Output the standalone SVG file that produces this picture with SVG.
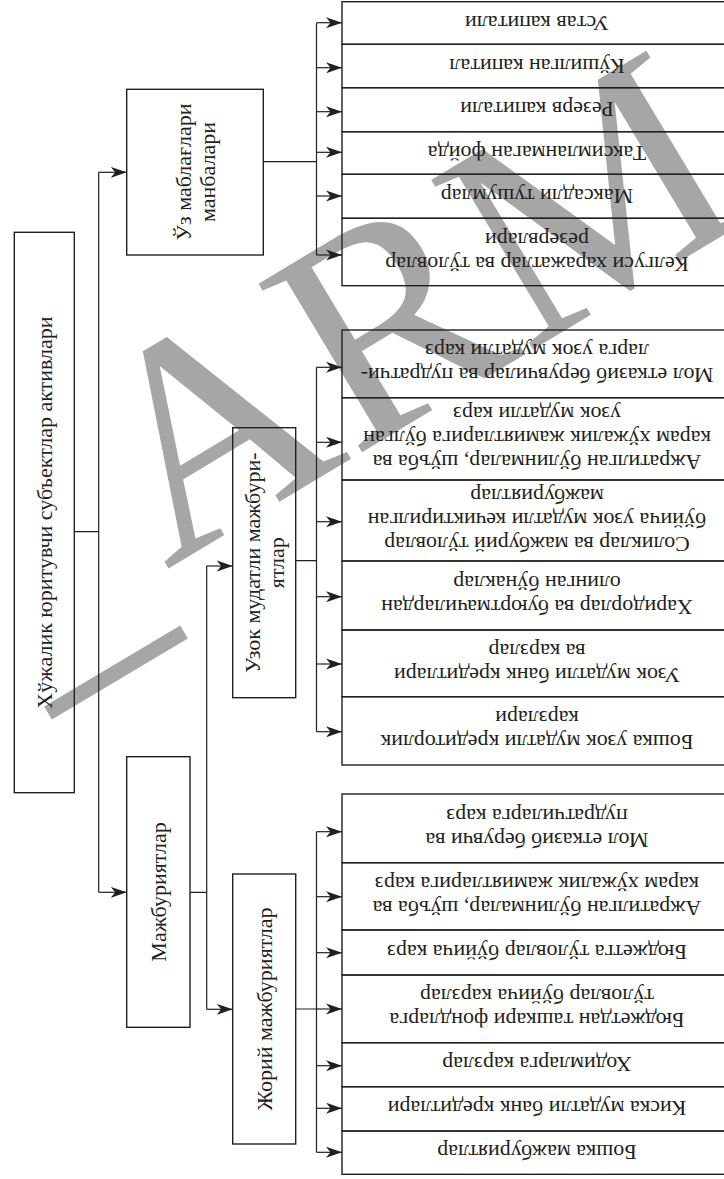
<svg xmlns="http://www.w3.org/2000/svg" width="724" height="1179" viewBox="0 0 724 1179">
<style>
.wm{font-family:"Liberation Serif","DejaVu Serif",serif;fill:#a6a6a6}
.box{fill:none;stroke:#231f20;stroke-width:1.4}
.con{fill:none;stroke:#231f20;stroke-width:1.2}
.t{font-family:"Liberation Serif","DejaVu Serif",serif;font-size:22px;fill:#231f20;text-anchor:middle}
</style>
<defs>
<marker id="ah" viewBox="-16 -6 16 12" refX="0" refY="0" markerWidth="16" markerHeight="12" markerUnits="userSpaceOnUse" orient="auto">
<path d="M0,0 L-16,-5.5 L-11.5,0 L-16,5.5 Z" fill="#231f20"/>
</marker>
</defs>
<rect width="724" height="1179" fill="#ffffff"/>
<g id="watermark">
<text class="wm" font-size="302" transform="translate(166,570) rotate(-31)">ARM</text>
<line x1="48" y1="713" x2="184" y2="632" stroke="#a6a6a6" stroke-width="15"/>
</g>
<g id="connectors">
<path class="con" d="M74.3,531.7 H98.7 M98.7,172.3 V892.3"/>
<path class="con" d="M98.7,172.3 H126.7" marker-end="url(#ah)"/>
<path class="con" d="M98.7,892.3 H126.7" marker-end="url(#ah)"/>
<path class="con" d="M263.3,161.7 H316.5 M316.5,22.7 V255"/>
<path class="con" d="M316.5,22.7 H342" marker-end="url(#ah)"/>
<path class="con" d="M316.5,67.7 H342" marker-end="url(#ah)"/>
<path class="con" d="M316.5,111.7 H342" marker-end="url(#ah)"/>
<path class="con" d="M316.5,152.3 H342" marker-end="url(#ah)"/>
<path class="con" d="M316.5,196 H342" marker-end="url(#ah)"/>
<path class="con" d="M316.5,255 H342" marker-end="url(#ah)"/>
<path class="con" d="M190,892.3 H206.7 M206.7,566 V1009.3"/>
<path class="con" d="M206.7,566 H232.7" marker-end="url(#ah)"/>
<path class="con" d="M206.7,1009.3 H232.7" marker-end="url(#ah)"/>
<path class="con" d="M295.7,560.7 H316.5 M316.5,367.3 V731.7"/>
<path class="con" d="M316.5,367.3 H342" marker-end="url(#ah)"/>
<path class="con" d="M316.5,442.3 H342" marker-end="url(#ah)"/>
<path class="con" d="M316.5,521.7 H342" marker-end="url(#ah)"/>
<path class="con" d="M316.5,596.7 H342" marker-end="url(#ah)"/>
<path class="con" d="M316.5,664 H342" marker-end="url(#ah)"/>
<path class="con" d="M316.5,731.7 H342" marker-end="url(#ah)"/>
<path class="con" d="M295.7,1009 H316.5 M316.5,831.7 V1152.3"/>
<path class="con" d="M316.5,831.7 H342" marker-end="url(#ah)"/>
<path class="con" d="M316.5,896.7 H342" marker-end="url(#ah)"/>
<path class="con" d="M316.5,952.7 H342" marker-end="url(#ah)"/>
<path class="con" d="M316.5,1009 H342" marker-end="url(#ah)"/>
<path class="con" d="M316.5,1065.7 H342" marker-end="url(#ah)"/>
<path class="con" d="M316.5,1108.3 H342" marker-end="url(#ah)"/>
<path class="con" d="M316.5,1152.3 H342" marker-end="url(#ah)"/>
</g>
<g id="n-main">
<rect class="box" x="14.3" y="232.3" width="60" height="560.4"/>
<text class="t" transform="translate(44.3,512.5) rotate(-90)" y="7.5">Хўжалик юритувчи субъектлар активлари</text>
</g>
<g id="n-uz">
<rect class="box" x="126.7" y="89.3" width="136.6" height="165.7"/>
<text class="t" transform="translate(195,172) rotate(-90)"><tspan x="0" y="-4.5">Ўз маблағлари</tspan><tspan x="0" y="19.5">манбалари</tspan></text>
</g>
<g id="n-mazh">
<rect class="box" x="126.7" y="756.7" width="63.3" height="270.6"/>
<text class="t" transform="translate(158.3,892) rotate(-90)" y="7.5">Мажбуриятлар</text>
</g>
<g id="n-uzok">
<rect class="box" x="232.7" y="427.7" width="63" height="270"/>
<text class="t" transform="translate(264.2,562.7) rotate(-90)"><tspan x="0" y="-4.5">Узок мудатли мажбури-</tspan><tspan x="0" y="19.5">ятлар</tspan></text>
</g>
<g id="n-joriy">
<rect class="box" x="232.7" y="874" width="63" height="270"/>
<text class="t" transform="translate(264.2,1009) rotate(-90)" y="7.5">Жорий мажбуриятлар</text>
</g>
<g id="n-r1">
<rect class="box" x="342" y="1.7" width="390" height="42.6"/>
<text class="t" transform="translate(537,23) rotate(180)" y="7.5">Устав капитали</text>
</g>
<g id="n-r2">
<rect class="box" x="342" y="44.3" width="390" height="43.4"/>
<text class="t" transform="translate(537,66) rotate(180)" y="7.5">Кўшилган капитал</text>
</g>
<g id="n-r3">
<rect class="box" x="342" y="87.7" width="390" height="44"/>
<text class="t" transform="translate(537,109.7) rotate(180)" y="7.5">Резерв капитали</text>
</g>
<g id="n-r4">
<rect class="box" x="342" y="131.7" width="390" height="42.6"/>
<text class="t" transform="translate(537,153) rotate(180)" y="7.5">Таксимланмаган фойда</text>
</g>
<g id="n-r5">
<rect class="box" x="342" y="174.3" width="390" height="44"/>
<text class="t" transform="translate(537,196.3) rotate(180)" y="7.5">Максадли тушумлар</text>
</g>
<g id="n-r6">
<rect class="box" x="342" y="218.3" width="390" height="67.4"/>
<text class="t" transform="translate(537,252) rotate(180)"><tspan x="0" y="-4.5">Келгуси харажатлар ва тўловлар</tspan><tspan x="0" y="19.5">резервлари</tspan></text>
</g>
<g id="n-u1">
<rect class="box" x="342" y="330" width="390" height="67.7"/>
<text class="t" transform="translate(537,363.8) rotate(180)"><tspan x="0" y="-4.5">Мол етказиб берувчилар ва пудратчи-</tspan><tspan x="0" y="19.5">ларга узок мудатли карз</tspan></text>
</g>
<g id="n-u2">
<rect class="box" x="342" y="397.7" width="390" height="82.3"/>
<text class="t" transform="translate(537,438.8) rotate(180)"><tspan x="0" y="-16.5">Ажратилган бўлинмалар, шўъба ва</tspan><tspan x="0" y="7.5">карам хўжалик жамиятларига бўлган</tspan><tspan x="0" y="31.5">узок мудатли карз</tspan></text>
</g>
<g id="n-u3">
<rect class="box" x="342" y="480" width="390" height="81"/>
<text class="t" transform="translate(537,520.5) rotate(180)"><tspan x="0" y="-16.5">Соликлар ва мажбурий тўловлар</tspan><tspan x="0" y="7.5">бўйича узок мудатли кечиктирилган</tspan><tspan x="0" y="31.5">мажбуриятлар</tspan></text>
</g>
<g id="n-u4">
<rect class="box" x="342" y="561" width="390" height="69"/>
<text class="t" transform="translate(537,595.5) rotate(180)"><tspan x="0" y="-4.5">Харидорлар ва буюртмачилардан</tspan><tspan x="0" y="19.5">олинган бўнаклар</tspan></text>
</g>
<g id="n-u5">
<rect class="box" x="342" y="630" width="390" height="66.7"/>
<text class="t" transform="translate(537,663.3) rotate(180)"><tspan x="0" y="-4.5">Узок мудатли банк кредитлари</tspan><tspan x="0" y="19.5">ва карзлар</tspan></text>
</g>
<g id="n-u6">
<rect class="box" x="342" y="696.7" width="390" height="68.3"/>
<text class="t" transform="translate(537,730.8) rotate(180)"><tspan x="0" y="-4.5">Бошка узок мудатли кредиторлик</tspan><tspan x="0" y="19.5">карзлари</tspan></text>
</g>
<g id="n-j1">
<rect class="box" x="342" y="794" width="390" height="68.7"/>
<text class="t" transform="translate(537,828.3) rotate(180)"><tspan x="0" y="-4.5">Мол етказиб берувчи ва</tspan><tspan x="0" y="19.5">пудратчиларга карз</tspan></text>
</g>
<g id="n-j2">
<rect class="box" x="342" y="862.7" width="390" height="67.3"/>
<text class="t" transform="translate(537,896.3) rotate(180)"><tspan x="0" y="-4.5">Ажратилган бўлинмалар, шўъба ва</tspan><tspan x="0" y="19.5">карам хўжалик жамиятларига карз</tspan></text>
</g>
<g id="n-j3">
<rect class="box" x="342" y="930" width="390" height="45"/>
<text class="t" transform="translate(537,952.5) rotate(180)" y="7.5">Бюджетга тўловлар бўйича карз</text>
</g>
<g id="n-j4">
<rect class="box" x="342" y="975" width="390" height="67.7"/>
<text class="t" transform="translate(537,1008.8) rotate(180)"><tspan x="0" y="-4.5">Бюджетдан ташкари фондларга</tspan><tspan x="0" y="19.5">тўловлар бўйича карзлар</tspan></text>
</g>
<g id="n-j5">
<rect class="box" x="342" y="1042.7" width="390" height="44"/>
<text class="t" transform="translate(537,1064.7) rotate(180)" y="7.5">Ходимларга карзлар</text>
</g>
<g id="n-j6">
<rect class="box" x="342" y="1086.7" width="390" height="44.3"/>
<text class="t" transform="translate(537,1108.8) rotate(180)" y="7.5">Киска мудатли банк кредитлари</text>
</g>
<g id="n-j7">
<rect class="box" x="342" y="1131" width="390" height="43.3"/>
<text class="t" transform="translate(537,1152.6) rotate(180)" y="7.5">Бошка мажбуриятлар</text>
</g>
</svg>
